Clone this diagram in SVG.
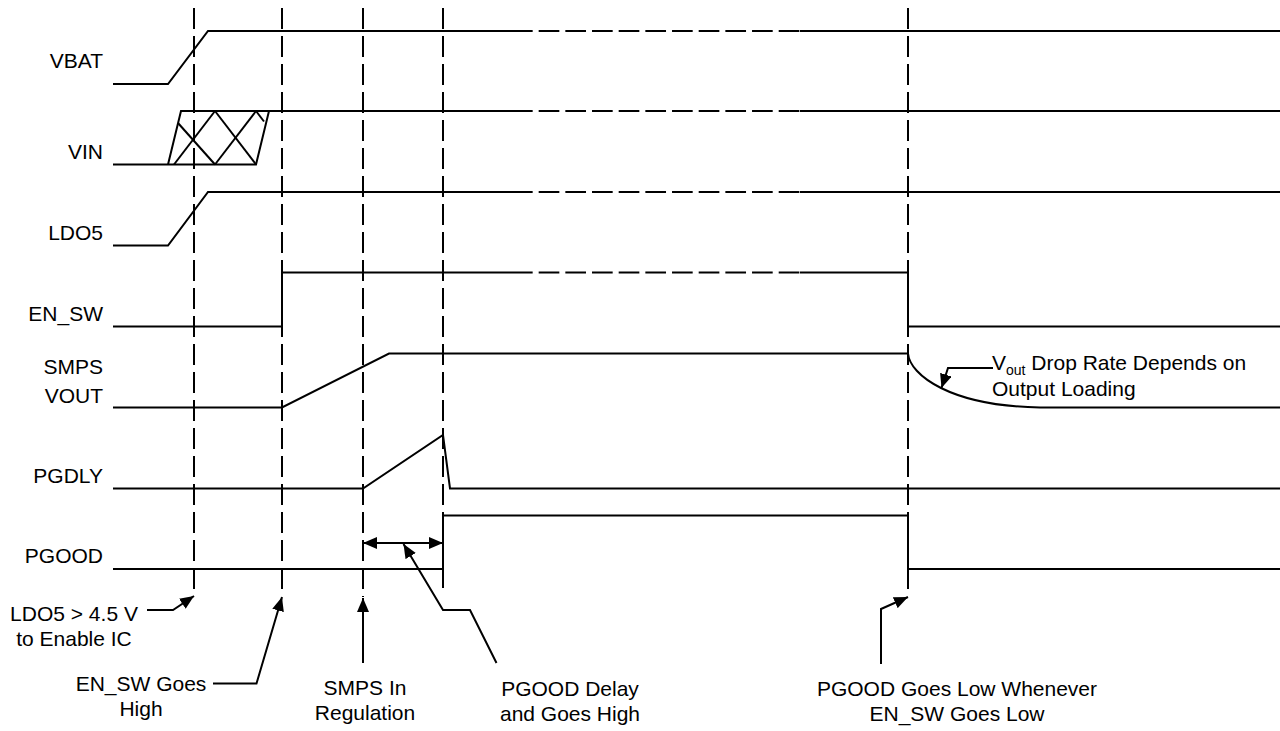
<svg xmlns="http://www.w3.org/2000/svg" width="1280" height="731" viewBox="0 0 1280 731">
<style>
.s{fill:none;stroke:#000;stroke-width:2;stroke-linejoin:miter}
.d{fill:none;stroke:#000;stroke-width:2;stroke-dasharray:20.67 6}
.v{fill:none;stroke:#000;stroke-width:2;stroke-dasharray:21 7}
.a{fill:none;stroke:#000;stroke-width:2}
text{font-family:"Liberation Sans",Arial,Helvetica,sans-serif;font-size:21px;fill:#000}
.l{text-anchor:end}
.c{text-anchor:middle}
</style>
<defs>
<marker id="ah" viewBox="0 0 14 12" refX="14" refY="6" markerWidth="14" markerHeight="12" markerUnits="userSpaceOnUse" orient="auto-start-reverse">
<path d="M0,0 L14,6 L0,12 z" fill="#000"/>
</marker>
</defs>
<rect width="1280" height="731" fill="#fff"/>

<g id="gridlines">
<line class="v" x1="194" y1="8" x2="194" y2="596"/>
<line class="v" x1="282" y1="8" x2="282" y2="596"/>
<line class="v" x1="363" y1="8" x2="363" y2="597"/>
<line class="v" x1="443" y1="8" x2="443" y2="588"/>
<line class="v" x1="908" y1="8" x2="908" y2="589"/>
</g>

<g id="VBAT">
<text class="l" x="103" y="68">VBAT</text>
<polyline class="s" points="113,84 168,84 208,31 512,31"/>
<line class="d" x1="512" y1="31" x2="800" y2="31"/>
<line class="s" x1="800" y1="31" x2="1280" y2="31"/>
</g>

<g id="VIN">
<text class="l" x="103" y="159">VIN</text>
<polyline class="s" points="113,164.5 256,164.5 269,111 181,111 168,164.5"/>
<line class="s" x1="178" y1="123" x2="215" y2="164.5"/>
<line class="s" x1="174" y1="164.5" x2="215" y2="111"/>
<line class="s" x1="215" y1="111" x2="256" y2="164.5"/>
<line class="s" x1="215" y1="164.5" x2="256" y2="111"/>
<line class="s" x1="256" y1="111" x2="264" y2="121.5"/>
<line class="s" x1="269" y1="111" x2="512" y2="111"/>
<line class="d" x1="512" y1="111" x2="800" y2="111"/>
<line class="s" x1="800" y1="111" x2="1280" y2="111"/>
</g>

<g id="LDO5">
<text class="l" x="103" y="240">LDO5</text>
<polyline class="s" points="113,245.5 168,245.5 208,192 512,192"/>
<line class="d" x1="512" y1="192" x2="800" y2="192"/>
<line class="s" x1="800" y1="192" x2="1280" y2="192"/>
</g>

<g id="EN_SW">
<text class="l" x="103" y="321">EN_SW</text>
<polyline class="s" points="113,326.5 282,326.5 282,272.5 512,272.5"/>
<line class="d" x1="512" y1="272.5" x2="800" y2="272.5"/>
<polyline class="s" points="800,272.5 908,272.5 908,326.5 1280,326.5"/>
</g>

<g id="SMPS_VOUT">
<text class="l" x="103" y="374">SMPS</text>
<text class="l" x="103" y="403">VOUT</text>
<path class="s" d="M113,407.5 L282,407.5 L389,353.5 L908,353.5 C910,375 950,406 1040,407.5 L1280,407.5"/>
</g>

<g id="PGDLY">
<text class="l" x="103" y="483">PGDLY</text>
<polyline class="s" points="113,488.5 363,488.5 443,435 450,488.5 1280,488.5"/>
</g>

<g id="PGOOD">
<text class="l" x="103" y="563">PGOOD</text>
<polyline class="s" points="113,569 443,569 443,515.5 908,515.5 908,569 1280,569"/>
</g>

<g id="connectors">
<line class="a" x1="368" y1="543" x2="438" y2="543"/>
<line class="a" x1="363" y1="543" x2="443" y2="543" marker-start="url(#ah)" marker-end="url(#ah)" stroke-width="0"/>
<polyline class="a" points="993,368 948,368 941.5,388" marker-end="url(#ah)"/>
<polyline class="a" points="147,610 173,610 194,596" marker-end="url(#ah)"/>
<polyline class="a" points="213,683.5 256.5,683.5 282,597" marker-end="url(#ah)"/>
<line class="a" x1="363" y1="663" x2="363" y2="598" marker-end="url(#ah)"/>
<polyline class="a" points="496.5,663 470,610 443,610 403.5,544" marker-end="url(#ah)"/>
<polyline class="a" points="881,664 881,609 908,597" marker-end="url(#ah)"/>
</g>

<g id="annotations">
<text x="992" y="370">V<tspan font-size="14" dy="5">out</tspan><tspan dy="-5"> Drop Rate Depends on</tspan></text>
<text x="992" y="396">Output Loading</text>
<text class="c" x="74" y="621">LDO5 &gt; 4.5 V</text>
<text class="c" x="74" y="646">to Enable IC</text>
<text class="c" x="141" y="691">EN_SW Goes</text>
<text class="c" x="141" y="716">High</text>
<text class="c" x="365" y="695">SMPS In</text>
<text class="c" x="365" y="720">Regulation</text>
<text class="c" x="570" y="696">PGOOD Delay</text>
<text class="c" x="570" y="721">and Goes High</text>
<text class="c" x="957" y="696">PGOOD Goes Low Whenever</text>
<text class="c" x="957" y="721">EN_SW Goes Low</text>
</g>
</svg>
